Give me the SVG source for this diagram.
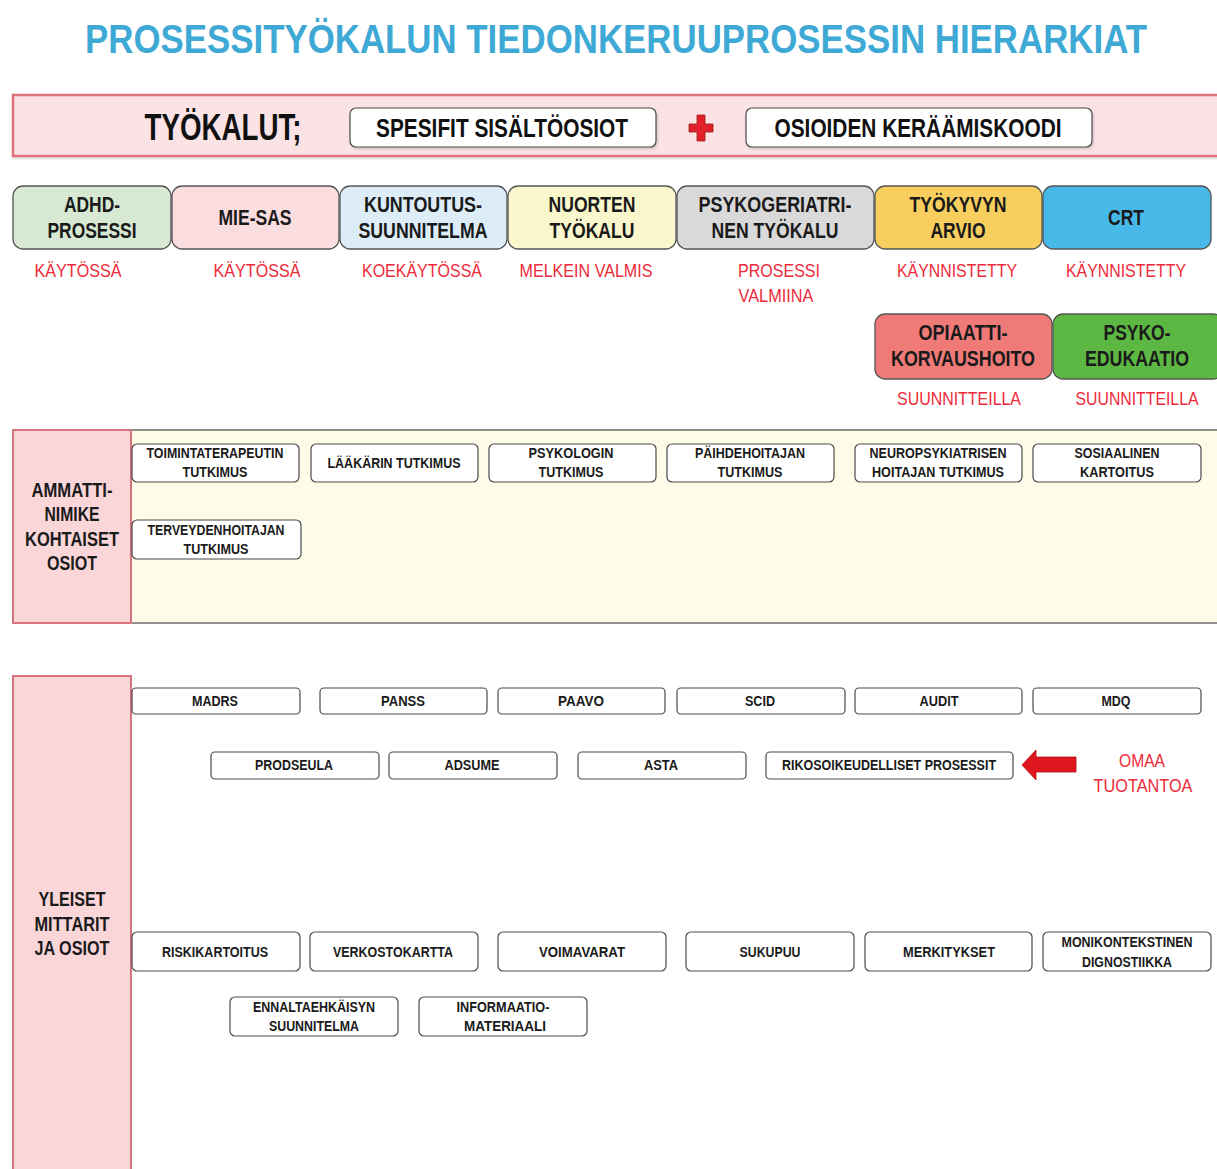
<svg xmlns="http://www.w3.org/2000/svg" width="1217" height="1169" viewBox="0 0 1217 1169">
  <style>
    text { font-family: "Liberation Sans", Arial, sans-serif; font-weight: bold; text-anchor: middle; }
    .title { fill: #3fa9d6; font-size: 34px; }
    .head { fill: #111; font-size: 37px; }
    .big { fill: #111; font-size: 25px; }
    .tool { fill: #1a1a1a; font-size: 22px; }
    .status { fill: #ee2a3a; font-size: 18px; font-weight: normal; }
    .side { fill: #1a1a1a; font-size: 20px; }
    .sm { fill: #1a1a1a; font-size: 14px; }
    .box { fill: #fff; stroke: #4a4a4a; stroke-width: 1.2; }
    .tbox { stroke: #555; stroke-width: 1.3; }
    .pinkcol { fill: #fad6d9; stroke: #d9747c; stroke-width: 2; }
  </style>
  <defs>
    <filter id="soft" x="-5%" y="-20%" width="110%" height="140%">
      <feDropShadow dx="1" dy="1.5" stdDeviation="1" flood-color="#000" flood-opacity="0.18"/>
    </filter>
  </defs>

  <rect width="1217" height="1169" fill="#fff"/>

  <!-- Title (tall, condensed lettering) -->
  <text class="title" transform="translate(616,53) scale(1,1.17)" x="0" y="0" textLength="1062" lengthAdjust="spacingAndGlyphs">PROSESSITYÖKALUN TIEDONKERUUPROSESSIN HIERARKIAT</text>

  <!-- Tools band -->
  <g id="tools-band">
    <rect x="13" y="95" width="1210" height="61" fill="#fbe3e5" stroke="#e0727c" stroke-width="2.5" filter="url(#soft)"/>
    <text class="head" x="223" y="140" textLength="157" lengthAdjust="spacingAndGlyphs">TYÖKALUT;</text>
  </g>
  <g id="spesifit">
    <rect class="box" x="350" y="108" width="306" height="39" rx="6" filter="url(#soft)"/>
    <text class="big" x="502" y="137" textLength="252" lengthAdjust="spacingAndGlyphs">SPESIFIT SISÄLTÖOSIOT</text>
  </g>
  <g id="plus">
    <path d="M697 115h8v9h8v8h-8v9h-8v-9h-8v-8h8z" fill="#e3212b" stroke="#9a1a1a" stroke-width="0.8"/>
  </g>
  <g id="keraamiskoodi">
    <rect class="box" x="746" y="108" width="346" height="39" rx="6" filter="url(#soft)"/>
    <text class="big" x="918" y="137" textLength="287" lengthAdjust="spacingAndGlyphs">OSIOIDEN KERÄÄMISKOODI</text>
  </g>

  <!-- Tool row -->
  <g id="adhd">
    <rect class="tbox" x="13" y="186" width="158" height="63" rx="10" fill="#d7e8d3"/>
    <text class="tool" x="92" y="212" textLength="56" lengthAdjust="spacingAndGlyphs">ADHD-</text>
    <text class="tool" x="92" y="238" textLength="89" lengthAdjust="spacingAndGlyphs">PROSESSI</text>
    <text class="status" x="78" y="277" textLength="87" lengthAdjust="spacingAndGlyphs">KÄYTÖSSÄ</text>
  </g>
  <g id="mie-sas">
    <rect class="tbox" x="172" y="186" width="167" height="63" rx="10" fill="#fbdde0"/>
    <text class="tool" x="255" y="225" textLength="73" lengthAdjust="spacingAndGlyphs">MIE-SAS</text>
    <text class="status" x="257" y="277" textLength="87" lengthAdjust="spacingAndGlyphs">KÄYTÖSSÄ</text>
  </g>
  <g id="kuntoutus">
    <rect class="tbox" x="340" y="186" width="167" height="63" rx="10" fill="#ddedf8"/>
    <text class="tool" x="423" y="212" textLength="118" lengthAdjust="spacingAndGlyphs">KUNTOUTUS-</text>
    <text class="tool" x="423" y="238" textLength="129" lengthAdjust="spacingAndGlyphs">SUUNNITELMA</text>
    <text class="status" x="422" y="277" textLength="120" lengthAdjust="spacingAndGlyphs">KOEKÄYTÖSSÄ</text>
  </g>
  <g id="nuorten">
    <rect class="tbox" x="508" y="186" width="168" height="63" rx="10" fill="#fbf7cd"/>
    <text class="tool" x="592" y="212" textLength="87" lengthAdjust="spacingAndGlyphs">NUORTEN</text>
    <text class="tool" x="592" y="238" textLength="85" lengthAdjust="spacingAndGlyphs">TYÖKALU</text>
    <text class="status" x="586" y="277" textLength="133" lengthAdjust="spacingAndGlyphs">MELKEIN VALMIS</text>
  </g>
  <g id="psykogeriatrinen">
    <rect class="tbox" x="677" y="186" width="197" height="63" rx="10" fill="#d9d9d9"/>
    <text class="tool" x="775" y="212" textLength="153" lengthAdjust="spacingAndGlyphs">PSYKOGERIATRI-</text>
    <text class="tool" x="775" y="238" textLength="127" lengthAdjust="spacingAndGlyphs">NEN TYÖKALU</text>
    <text class="status" x="779" y="277" textLength="82" lengthAdjust="spacingAndGlyphs">PROSESSI</text>
    <text class="status" x="776" y="302" textLength="75" lengthAdjust="spacingAndGlyphs">VALMIINA</text>
  </g>
  <g id="tyokyky">
    <rect class="tbox" x="875" y="186" width="167" height="63" rx="10" fill="#f8cf5e"/>
    <text class="tool" x="958" y="212" textLength="97" lengthAdjust="spacingAndGlyphs">TYÖKYVYN</text>
    <text class="tool" x="958" y="238" textLength="55" lengthAdjust="spacingAndGlyphs">ARVIO</text>
    <text class="status" x="957" y="277" textLength="120" lengthAdjust="spacingAndGlyphs">KÄYNNISTETTY</text>
  </g>
  <g id="crt">
    <rect class="tbox" x="1043" y="186" width="168" height="63" rx="10" fill="#47b9e9"/>
    <text class="tool" x="1126" y="225" textLength="36" lengthAdjust="spacingAndGlyphs">CRT</text>
    <text class="status" x="1126" y="277" textLength="120" lengthAdjust="spacingAndGlyphs">KÄYNNISTETTY</text>
  </g>
  <g id="opiaatti">
    <rect class="tbox" x="875" y="314" width="177" height="65" rx="10" fill="#ef7a78"/>
    <text class="tool" x="963" y="340" textLength="89" lengthAdjust="spacingAndGlyphs">OPIAATTI-</text>
    <text class="tool" x="963" y="366" textLength="144" lengthAdjust="spacingAndGlyphs">KORVAUSHOITO</text>
    <text class="status" x="959" y="405" textLength="124" lengthAdjust="spacingAndGlyphs">SUUNNITTEILLA</text>
  </g>
  <g id="psykoedukaatio">
    <rect class="tbox" x="1053" y="314" width="170" height="65" rx="10" fill="#5cb842"/>
    <text class="tool" x="1137" y="340" textLength="67" lengthAdjust="spacingAndGlyphs">PSYKO-</text>
    <text class="tool" x="1137" y="366" textLength="104" lengthAdjust="spacingAndGlyphs">EDUKAATIO</text>
    <text class="status" x="1137" y="405" textLength="123" lengthAdjust="spacingAndGlyphs">SUUNNITTEILLA</text>
  </g>

  <!-- Profession-specific sections -->
  <g id="ammatti-area">
    <rect x="131" y="430" width="1092" height="193" fill="#fefce9" stroke="#555" stroke-width="1.3"/>
    <rect class="pinkcol" x="13" y="430" width="118" height="193"/>
    <text class="side" x="72" y="497" textLength="81" lengthAdjust="spacingAndGlyphs">AMMATTI-</text>
    <text class="side" x="72" y="521" textLength="55" lengthAdjust="spacingAndGlyphs">NIMIKE</text>
    <text class="side" x="72" y="546" textLength="94" lengthAdjust="spacingAndGlyphs">KOHTAISET</text>
    <text class="side" x="72" y="570" textLength="50" lengthAdjust="spacingAndGlyphs">OSIOT</text>
  </g>
  <g id="toimintaterapeutti">
    <rect class="box" x="132" y="444" width="167" height="38" rx="5"/>
    <text class="sm" x="215" y="458" textLength="137" lengthAdjust="spacingAndGlyphs">TOIMINTATERAPEUTIN</text>
    <text class="sm" x="215" y="477" textLength="65" lengthAdjust="spacingAndGlyphs">TUTKIMUS</text>
  </g>
  <g id="laakari">
    <rect class="box" x="311" y="444" width="167" height="38" rx="5"/>
    <text class="sm" x="394" y="468" textLength="133" lengthAdjust="spacingAndGlyphs">LÄÄKÄRIN TUTKIMUS</text>
  </g>
  <g id="psykologi">
    <rect class="box" x="489" y="444" width="167" height="38" rx="5"/>
    <text class="sm" x="571" y="458" textLength="85" lengthAdjust="spacingAndGlyphs">PSYKOLOGIN</text>
    <text class="sm" x="571" y="477" textLength="65" lengthAdjust="spacingAndGlyphs">TUTKIMUS</text>
  </g>
  <g id="paihdehoitaja">
    <rect class="box" x="667" y="444" width="167" height="38" rx="5"/>
    <text class="sm" x="750" y="458" textLength="110" lengthAdjust="spacingAndGlyphs">PÄIHDEHOITAJAN</text>
    <text class="sm" x="750" y="477" textLength="65" lengthAdjust="spacingAndGlyphs">TUTKIMUS</text>
  </g>
  <g id="neuropsykiatrinen">
    <rect class="box" x="855" y="444" width="167" height="38" rx="5"/>
    <text class="sm" x="938" y="458" textLength="137" lengthAdjust="spacingAndGlyphs">NEUROPSYKIATRISEN</text>
    <text class="sm" x="938" y="477" textLength="132" lengthAdjust="spacingAndGlyphs">HOITAJAN TUTKIMUS</text>
  </g>
  <g id="sosiaalinen">
    <rect class="box" x="1033" y="444" width="168" height="38" rx="5"/>
    <text class="sm" x="1117" y="458" textLength="85" lengthAdjust="spacingAndGlyphs">SOSIAALINEN</text>
    <text class="sm" x="1117" y="477" textLength="74" lengthAdjust="spacingAndGlyphs">KARTOITUS</text>
  </g>
  <g id="terveydenhoitaja">
    <rect class="box" x="132" y="520" width="169" height="39" rx="5"/>
    <text class="sm" x="216" y="535" textLength="137" lengthAdjust="spacingAndGlyphs">TERVEYDENHOITAJAN</text>
    <text class="sm" x="216" y="554" textLength="65" lengthAdjust="spacingAndGlyphs">TUTKIMUS</text>
  </g>

  <!-- General measures and sections -->
  <g id="yleiset-area">
    <rect class="pinkcol" x="13" y="676" width="118" height="500"/>
    <text class="side" x="72" y="906" textLength="67" lengthAdjust="spacingAndGlyphs">YLEISET</text>
    <text class="side" x="72" y="931" textLength="75" lengthAdjust="spacingAndGlyphs">MITTARIT</text>
    <text class="side" x="72" y="955" textLength="75" lengthAdjust="spacingAndGlyphs">JA OSIOT</text>
  </g>
  <g id="madrs"><rect class="box" x="132" y="688" width="168" height="26" rx="4"/><text class="sm" x="215" y="706" textLength="46" lengthAdjust="spacingAndGlyphs">MADRS</text></g>
  <g id="panss"><rect class="box" x="320" y="688" width="167" height="26" rx="4"/><text class="sm" x="403" y="706" textLength="44" lengthAdjust="spacingAndGlyphs">PANSS</text></g>
  <g id="paavo"><rect class="box" x="498" y="688" width="167" height="26" rx="4"/><text class="sm" x="581" y="706" textLength="46" lengthAdjust="spacingAndGlyphs">PAAVO</text></g>
  <g id="scid"><rect class="box" x="677" y="688" width="168" height="26" rx="4"/><text class="sm" x="760" y="706" textLength="30" lengthAdjust="spacingAndGlyphs">SCID</text></g>
  <g id="audit"><rect class="box" x="855" y="688" width="167" height="26" rx="4"/><text class="sm" x="939" y="706" textLength="39" lengthAdjust="spacingAndGlyphs">AUDIT</text></g>
  <g id="mdq"><rect class="box" x="1033" y="688" width="168" height="26" rx="4"/><text class="sm" x="1116" y="706" textLength="29" lengthAdjust="spacingAndGlyphs">MDQ</text></g>

  <g id="prodseula"><rect class="box" x="211" y="752" width="168" height="27" rx="4"/><text class="sm" x="294" y="770" textLength="78" lengthAdjust="spacingAndGlyphs">PRODSEULA</text></g>
  <g id="adsume"><rect class="box" x="389" y="752" width="168" height="27" rx="4"/><text class="sm" x="472" y="770" textLength="55" lengthAdjust="spacingAndGlyphs">ADSUME</text></g>
  <g id="asta"><rect class="box" x="578" y="752" width="168" height="27" rx="4"/><text class="sm" x="661" y="770" textLength="34" lengthAdjust="spacingAndGlyphs">ASTA</text></g>
  <g id="rikosoikeudelliset"><rect class="box" x="766" y="752" width="247" height="27" rx="4"/><text class="sm" x="889" y="770" textLength="214" lengthAdjust="spacingAndGlyphs">RIKOSOIKEUDELLISET PROSESSIT</text></g>

  <g id="omaa-tuotantoa">
    <text class="status" x="1142" y="767" textLength="46" lengthAdjust="spacingAndGlyphs">OMAA</text>
    <text class="status" x="1143" y="792" textLength="99" lengthAdjust="spacingAndGlyphs">TUOTANTOA</text>
  </g>

  <g id="riskikartoitus"><rect class="box" x="132" y="932" width="168" height="39" rx="5"/><text class="sm" x="215" y="957" textLength="106" lengthAdjust="spacingAndGlyphs">RISKIKARTOITUS</text></g>
  <g id="verkostokartta"><rect class="box" x="310" y="932" width="168" height="39" rx="5"/><text class="sm" x="393" y="957" textLength="120" lengthAdjust="spacingAndGlyphs">VERKOSTOKARTTA</text></g>
  <g id="voimavarat"><rect class="box" x="498" y="932" width="168" height="39" rx="5"/><text class="sm" x="582" y="957" textLength="86" lengthAdjust="spacingAndGlyphs">VOIMAVARAT</text></g>
  <g id="sukupuu"><rect class="box" x="686" y="932" width="168" height="39" rx="5"/><text class="sm" x="770" y="957" textLength="61" lengthAdjust="spacingAndGlyphs">SUKUPUU</text></g>
  <g id="merkitykset"><rect class="box" x="865" y="932" width="167" height="39" rx="5"/><text class="sm" x="949" y="957" textLength="92" lengthAdjust="spacingAndGlyphs">MERKITYKSET</text></g>
  <g id="monikontekstinen">
    <rect class="box" x="1043" y="932" width="168" height="39" rx="5"/>
    <text class="sm" x="1127" y="947" textLength="131" lengthAdjust="spacingAndGlyphs">MONIKONTEKSTINEN</text>
    <text class="sm" x="1127" y="967" textLength="90" lengthAdjust="spacingAndGlyphs">DIGNOSTIIKKA</text>
  </g>
  <g id="ennaltaehkaisy">
    <rect class="box" x="230" y="997" width="168" height="39" rx="5"/>
    <text class="sm" x="314" y="1012" textLength="122" lengthAdjust="spacingAndGlyphs">ENNALTAEHKÄISYN</text>
    <text class="sm" x="314" y="1031" textLength="90" lengthAdjust="spacingAndGlyphs">SUUNNITELMA</text>
  </g>
  <g id="informaatiomateriaali">
    <rect class="box" x="419" y="997" width="168" height="39" rx="5"/>
    <text class="sm" x="503" y="1012" textLength="93" lengthAdjust="spacingAndGlyphs">INFORMAATIO-</text>
    <text class="sm" x="505" y="1031" textLength="82" lengthAdjust="spacingAndGlyphs">MATERIAALI</text>
  </g>

  <!-- Connectors -->
  <g id="connectors">
    <path d="M1076 757 L1036 757 L1036 750 L1022 765 L1036 780 L1036 772 L1076 772 Z" fill="#e0161e" stroke="#b01010" stroke-width="0.8"/>
  </g>
</svg>
